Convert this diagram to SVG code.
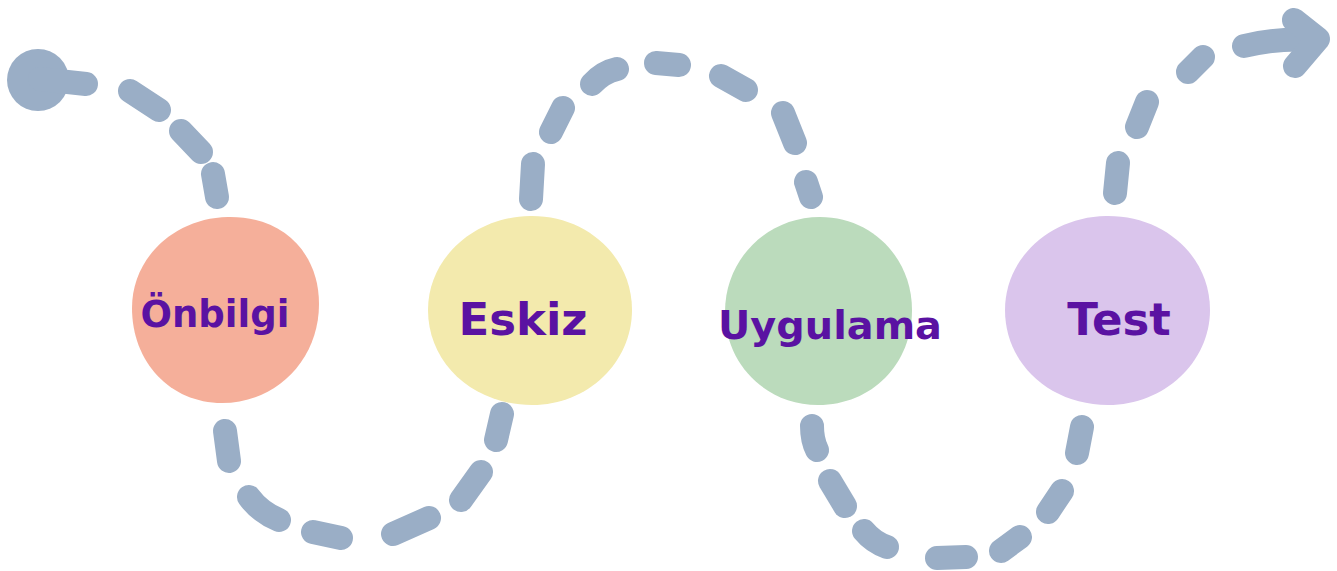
<svg xmlns="http://www.w3.org/2000/svg" width="1337" height="571" viewBox="0 0 1337 571">
  <style>
    .dash { fill: none; stroke: #9AAEC6; stroke-width: 24; stroke-linecap: round; stroke-linejoin: round; }
    .label { font-family: "DejaVu Sans", "Liberation Sans", sans-serif; font-weight: bold; fill: #5A12A2; text-anchor: middle; }
  </style>
  <rect width="1337" height="571" fill="#FFFFFF"/>

  <!-- dashed path connecting the four stages -->
  <g id="connectors">
    <circle cx="38" cy="80" r="31" fill="#9AAEC6"/>
    <line class="dash" x1="40" y1="79" x2="86" y2="84"/>
    <line class="dash" x1="130" y1="91" x2="159" y2="110"/>
    <line class="dash" x1="181" y1="131" x2="201" y2="152"/>
    <line class="dash" x1="213" y1="174" x2="217" y2="197"/>

    <line class="dash" x1="225" y1="431" x2="229" y2="461"/>
    <path class="dash" d="M249,497 Q260,512 279,520"/>
    <line class="dash" x1="313" y1="532" x2="341" y2="538"/>
    <line class="dash" x1="393" y1="534" x2="429" y2="518"/>
    <line class="dash" x1="461" y1="500" x2="481" y2="472"/>
    <line class="dash" x1="496" y1="440" x2="502" y2="414"/>

    <line class="dash" x1="531" y1="199" x2="533" y2="164"/>
    <line class="dash" x1="551" y1="132" x2="563" y2="108"/>
    <path class="dash" d="M592,84 Q603,72 617,69"/>
    <line class="dash" x1="656" y1="63" x2="679" y2="65"/>
    <line class="dash" x1="721" y1="76" x2="746" y2="90"/>
    <line class="dash" x1="783" y1="113" x2="795" y2="143"/>
    <line class="dash" x1="806" y1="182" x2="811" y2="197"/>

    <path class="dash" d="M812,426 Q812,440 817,450"/>
    <line class="dash" x1="830" y1="481" x2="845" y2="506"/>
    <path class="dash" d="M864,531 Q873,542 887,547"/>
    <line class="dash" x1="937" y1="558" x2="966" y2="557"/>
    <line class="dash" x1="1001" y1="551" x2="1020" y2="537"/>
    <line class="dash" x1="1048" y1="512" x2="1062" y2="491"/>
    <line class="dash" x1="1077" y1="453" x2="1082" y2="427"/>

    <line class="dash" x1="1115" y1="193" x2="1118" y2="163"/>
    <line class="dash" x1="1137" y1="127" x2="1147" y2="102"/>
    <line class="dash" x1="1188" y1="72" x2="1203" y2="57"/>
    <path class="dash" d="M1244,46 Q1275,38 1314,40"/>
    <polyline class="dash" points="1294,20 1318,39 1295,66"/>
  </g>

  <g id="node-onbilgi">
    <path d="M228,217 C282,216 319,252 319,304 C319,360 276,403 222,403 C170,403 132,362 132,308 C132,258 174,218 228,217 Z" fill="#F5AF9A"/>
    <text class="label" x="215" y="327" font-size="37">Önbilgi</text>
  </g>

  <g id="node-eskiz">
    <path d="M530,216 C586,215 632,256 632,310 C632,362 588,405 532,405 C474,405 428,364 428,310 C428,258 474,217 530,216 Z" fill="#F3EAAD"/>
    <text class="label" x="523" y="335" font-size="45">Eskiz</text>
  </g>

  <g id="node-uygulama">
    <path d="M820,217 C872,217 912,258 912,310 C912,364 872,405 818,405 C766,405 725,364 725,312 C725,258 768,217 820,217 Z" fill="#BBDBBC"/>
    <text class="label" x="830" y="339" font-size="39" textLength="224" lengthAdjust="spacingAndGlyphs">Uygulama</text>
  </g>

  <g id="node-test">
    <path d="M1106,216 C1164,215 1210,256 1210,310 C1210,362 1164,405 1108,405 C1050,405 1005,364 1005,310 C1005,258 1050,217 1106,216 Z" fill="#DAC5EC"/>
    <text class="label" x="1119" y="335" font-size="45">Test</text>
  </g>
</svg>
